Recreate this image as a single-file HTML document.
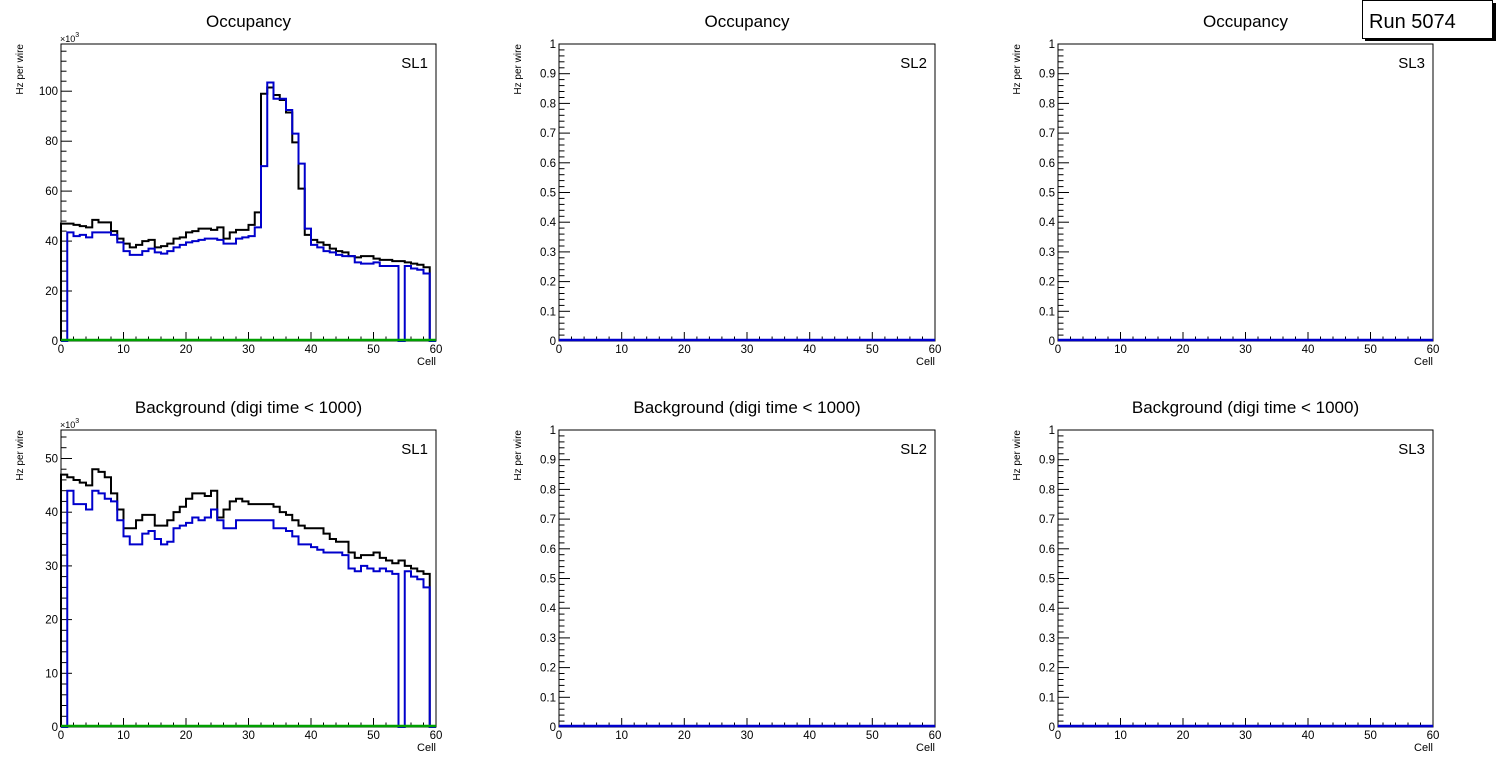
<!DOCTYPE html>
<html><head><meta charset="utf-8"><style>
html,body{margin:0;padding:0;background:#fff;width:1496px;height:772px;overflow:hidden}
svg text{font-family:"Liberation Sans",Arial,sans-serif}
</style></head><body>
<svg id="s" width="1496" height="772" xmlns="http://www.w3.org/2000/svg"></svg>
<script>
const S=document.getElementById('s');let h='';
const cols=[[61,436],[559,935],[1058,1433]],rows=[[44,341],[430,727]];
const tb=[47,47,46.5,46,45.5,48.5,47.5,47.5,44,41,39,37.5,38.5,40,40.5,37.5,38,39,41,41.5,43.5,44,45,45,44.5,45.5,41,43.5,44.5,44.5,46.5,51.5,99,101.5,98.5,96.5,91.5,79.5,61,42.5,40.5,39.5,38.5,37,36,35.5,34,33.5,34,34,33,32.5,32.5,32,32,31.5,31,30.5,29.5,0];
const tl=[0,43.5,42,42.5,41.5,43.5,43.5,43.5,42.5,39.5,36,34.5,34.5,36,37,35.5,35,36,37.5,38.5,39.5,40,40.5,41,41,40.5,39,39,41,41.5,42,45.5,70,103.5,97,97,92.5,83,71,45,38.5,37.5,36,35.5,34.5,34,34,31.5,31,31,31.5,30,30,30,0,30,29,28.5,27,0];
const bb=[47,46.5,46,45.5,45,48,47.5,46.5,43.5,40.5,37,37,38.5,39.5,39.5,37.5,37.5,38.5,40,41,42.5,43.5,43.5,43,44,39,40.5,42,42.5,42,41.5,41.5,41.5,41.5,41,40,39.5,38.5,37.5,37,37,37,36,35,34.5,34.5,32.5,31.5,32,32,32.5,31.5,31,30.5,31,30,29.5,29,28.5,0];
const bl=[0,44,41.5,41.5,40.5,44,43.5,42.5,42,38.5,35.5,34,34,36,36.5,35,34,34.5,37,37.5,38,39,38.5,39,40.5,38.5,37,37,38.5,38.5,38.5,38.5,38.5,38.5,37,37,36.5,35.5,34,34,33.5,33,32.5,32.5,32.5,32,29.5,29,30,29.5,29,29.5,29,28.5,0,29,28,27.5,26,0];
function T(x,y,s,sz,anc,extra){h+=`<text x="${x}" y="${y}" font-size="${sz}" text-anchor="${anc||'start'}" ${extra||''}>${s}</text>`;}
function hist(d,x0,x1,y0,y1,ymax,col){const w=(x1-x0)/60;let p=`M${x0},${y0}`;for(let i=0;i<60;i++){const y=y0-(y0-y1)*d[i]/ymax;p+=` L${(x0+i*w).toFixed(2)},${y.toFixed(2)} L${(x0+(i+1)*w).toFixed(2)},${y.toFixed(2)}`;}p+=` L${x1},${y0}`;h+=`<path d="${p}" fill="none" stroke="${col}" stroke-width="2"/>`;}
for(let r=0;r<2;r++)for(let c=0;c<3;c++){
 const [x0,x1]=cols[c],[y1,y0]=rows[r];
 const title=r==0?'Occupancy':'Background (digi time &lt; 1000)';
 T((x0+x1)/2,y1-17,title,17,'middle');
 let ymax,maj,nmin,fmt,exp=false;
 if(c==0){exp=true;if(r==0){ymax=118.9;maj=20;nmin=5;}else{ymax=55.3;maj=10;nmin=5;}fmt=v=>String(v);}
 else{ymax=1;maj=0.1;nmin=5;fmt=v=>v==0?'0':(v==1?'1':v.toFixed(1));}
 const step=maj/nmin;
 for(let k=0;k*step<=ymax+1e-9;k++){const v=k*step;const y=y0-(y0-y1)*v/ymax;const isM=k%nmin==0;
  h+=`<line x1="${x0}" y1="${y.toFixed(1)}" x2="${x0+(isM?11:5.5)}" y2="${y.toFixed(1)}" stroke="#000"/>`;
  if(isM)T(x0-3,y+4,fmt(Math.round(v*10)/10),11.5,'end');}
 if(exp)T(x0-1,y1-2,'×10<tspan dy="-5" font-size="7">3</tspan>',9,'start');
 h+=`<text transform="translate(${x0-38},${y1}) rotate(-90)" font-size="10" text-anchor="end">Hz per wire</text>`;
 for(let k=0;k<=30;k++){const x=x0+(x1-x0)*k/30;const isM=k%5==0;
  h+=`<line x1="${x.toFixed(1)}" y1="${y0}" x2="${x.toFixed(1)}" y2="${y0-(isM?9:4.5)}" stroke="#000"/>`;
  if(isM)T(x,y0+12,String(k*2),11.5,'middle');}
 T(x1,y0+24,'Cell',11,'end');
 T(x1-8,y1+24,'SL'+(c+1),15,'end');
 h+=`<rect x="${x0}" y="${y1}" width="${x1-x0}" height="${y0-y1}" fill="none" stroke="#000" stroke-width="1"/>`;
 if(c==0){
  if(r==0){hist(tb,x0,x1,y0,y1,ymax,'#000');hist(tl,x0,x1,y0,y1,ymax,'#0000cc');}
  else{hist(bb,x0,x1,y0,y1,ymax,'#000');hist(bl,x0,x1,y0,y1,ymax,'#0000cc');}
  h+=`<line x1="${x0}" y1="${y0-1}" x2="${x1}" y2="${y0-1}" stroke="#00a000" stroke-width="2.5"/>`;
 } else h+=`<line x1="${x0}" y1="${y0-1}" x2="${x1}" y2="${y0-1}" stroke="#0000cc" stroke-width="2.5"/>`;
}
h+=`<rect x="1365" y="3" width="131" height="38" fill="#000"/>`;
h+=`<rect x="1362.5" y="0.5" width="130" height="38" fill="#fff" stroke="#000"/>`;
T(1369,28,'Run 5074',20,'start');
S.innerHTML=h;
</script>
</body></html>
